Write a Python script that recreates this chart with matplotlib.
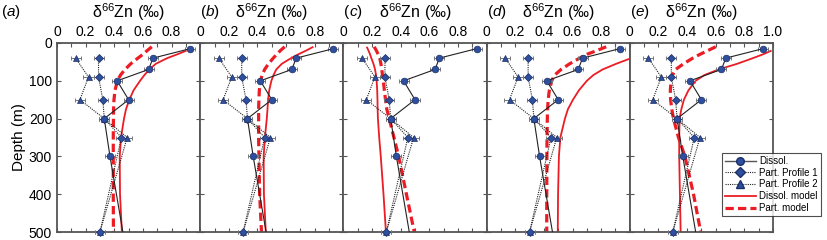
import numpy as np
import matplotlib
matplotlib.use("Agg")
import matplotlib.pyplot as plt
from matplotlib.lines import Line2D

plt.rcParams['font.family'] = ['Liberation Sans', 'DejaVu Sans']
plt.rcParams['mathtext.fontset'] = 'custom'
plt.rcParams['mathtext.rm'] = 'Liberation Sans'

# ---- measured data (same in all panels) ----
dis_depth = [15, 40, 70, 100, 150, 200, 300, 500]
dis_val = [0.93, 0.67, 0.64, 0.42, 0.50, 0.33, 0.37, 0.46]
dis_err = 0.035

part_depth = [40, 90, 150, 200, 250, 500]
part1_val = [0.29, 0.29, 0.32, 0.33, 0.45, 0.30]
part2_val = [0.13, 0.22, 0.16, 0.33, 0.49, 0.30]
part_err = 0.035

# ---- model curves ----
model_depth = [10, 20, 30, 40, 55, 70, 85, 100, 125, 150, 175, 200, 250, 300, 400, 500]
nan = np.nan
dis_model = {
    'a': [nan, 0.905, 0.84, 0.77, 0.69, 0.645, 0.61, 0.58, 0.535, 0.505, 0.482, 0.468, 0.447, 0.438, 0.44, 0.453],
    'b': [0.79, 0.74, 0.685, 0.635, 0.57, 0.531, 0.512, 0.497, 0.482, 0.474, 0.47, 0.465, 0.452, 0.443, 0.445, 0.458],
    'c': [0.163, 0.175, 0.186, 0.195, 0.21, 0.221, 0.228, 0.232, 0.236, 0.238, 0.239, 0.241, 0.25, 0.261, 0.28, 0.297],
    'd': [nan, nan, nan, 1.01, 0.905, 0.81, 0.745, 0.70, 0.645, 0.603, 0.568, 0.547, 0.515, 0.505, 0.499, 0.497],
    'e': [nan, 0.99, 0.93, 0.86, 0.75, 0.62, 0.52, 0.46, 0.41, 0.378, 0.36, 0.348, 0.345, 0.345, 0.35, 0.355],
}
part_model = {
    'a': [0.662, 0.63, 0.60, 0.565, 0.515, 0.475, 0.443, 0.422, 0.405, 0.398, 0.395, 0.394, 0.393, 0.393, 0.393, 0.394],
    'b': [0.59, 0.56, 0.535, 0.51, 0.477, 0.45, 0.432, 0.422, 0.413, 0.41, 0.408, 0.408, 0.408, 0.41, 0.415, 0.428],
    'c': [0.215, 0.23, 0.243, 0.254, 0.262, 0.268, 0.273, 0.279, 0.286, 0.294, 0.303, 0.32, 0.353, 0.386, 0.44, 0.495],
    'd': [0.835, 0.77, 0.70, 0.65, 0.58, 0.52, 0.475, 0.455, 0.438, 0.43, 0.426, 0.424, 0.422, 0.421, 0.42, 0.42],
    'e': [0.60, 0.545, 0.49, 0.44, 0.375, 0.32, 0.298, 0.288, 0.283, 0.285, 0.293, 0.305, 0.34, 0.385, 0.445, 0.495],
}
panels = ['a', 'b', 'c', 'd', 'e']
x_ticklabels = ['0', '0.2', '0.4', '0.6', '0.8', '1.0']
y_ticks = [0, 100, 200, 300, 400, 500]

# ---- styling ----
blue = '#2E4E9E'
blue_edge = '#1C2F66'
red = '#EC1C24'
spine_col = '#555555'

W, H = 828, 240
fig = plt.figure(figsize=(W / 100, H / 100), dpi=100)
left_px, right_px = 57, 773
top_px, bot_px = 43, 232
pw = (right_px - left_px) / 5.0

axes = []
for i, p in enumerate(panels):
    ax = fig.add_axes([(left_px + i * pw) / W, 1 - bot_px / H, pw / W, (bot_px - top_px) / H])
    axes.append(ax)
    ax.set_xlim(0, 1.0)
    ax.set_ylim(500, 0)

    # models
    ax.plot(dis_model[p], model_depth, color=red, lw=1.3, solid_capstyle='butt', zorder=2)
    ax.plot(part_model[p], model_depth, color=red, lw=2.3, dashes=(2.6, 1.3), zorder=2)

    # measured profiles
    ax.errorbar(part2_val, part_depth, xerr=part_err, fmt='none', ecolor='#777777',
                elinewidth=0.7, capsize=1.4, capthick=0.7, zorder=3, clip_on=False)
    ax.plot(part2_val, part_depth, color='#222222', lw=0.8, ls=(0, (1, 1)), marker='^',
            ms=5, mfc=blue, mec=blue_edge, mew=0.5, zorder=4, clip_on=False)
    ax.errorbar(part1_val, part_depth, xerr=part_err, fmt='none', ecolor='#777777',
                elinewidth=0.7, capsize=1.4, capthick=0.7, zorder=3, clip_on=False)
    ax.plot(part1_val, part_depth, color='#222222', lw=0.8, ls=(0, (1, 1)), marker='D',
            ms=4.2, mfc=blue, mec=blue_edge, mew=0.5, zorder=4, clip_on=False)
    ax.errorbar(dis_val[:-1], dis_depth[:-1], xerr=dis_err, fmt='none', ecolor='#777777',
                elinewidth=0.7, capsize=1.4, capthick=0.7, zorder=3)
    ax.plot(dis_val, dis_depth, color='#222222', lw=0.8, marker='o', ms=4.8,
            mfc=blue, mec=blue_edge, mew=0.5, markevery=list(range(len(dis_val) - 1)), zorder=5)

    # axes styling
    for s in ax.spines.values():
        s.set_color(spine_col)
        s.set_linewidth(1.3)
    ax.xaxis.tick_top()
    ax.set_xticks(np.arange(0, 1.01, 0.2))
    ax.set_xticks(np.arange(0.1, 1.0, 0.2), minor=True)
    if p == 'e':
        ax.set_xticklabels(x_ticklabels)
    else:
        ax.set_xticklabels(x_ticklabels[:-1] + [''])
    ax.tick_params(axis='x', which='both', top=True, bottom=True, direction='in',
                   length=3, width=0.8, color=spine_col, labelsize=10, pad=3)
    ax.set_yticks(y_ticks)
    ax.tick_params(axis='y', which='both', left=True, right=True, direction='in',
                   length=3, width=0.8, color=spine_col, labelsize=10)
    if i == 0:
        ax.set_yticklabels([str(v) for v in y_ticks])
        ax.set_ylabel('Depth (m)', fontsize=11, labelpad=2)
    else:
        ax.set_yticklabels([])

    cx = (left_px + (i + 0.5) * pw) / W
    fig.text(cx, 1 - 12 / H, r'δ$^{66}$Zn (‰)', ha='center', va='center', fontsize=11.5)
    lx = 2 / W if i == 0 else (left_px + i * pw + 1) / W
    fig.text(lx, 1 - 12 / H, '(', ha='left', va='center', fontsize=11)
    fig.text(lx + 5 / W, 1 - 12 / H, p, ha='left', va='center', fontsize=11, style='italic')
    fig.text(lx + 13 / W, 1 - 12 / H, ')', ha='left', va='center', fontsize=11)

handles = [
    Line2D([], [], color='#555555', lw=1.0, marker='o', ms=5.5, mfc=blue, mec=blue_edge),
    Line2D([], [], color='#222222', lw=0.8, ls=(0, (1, 1)), marker='D', ms=5, mfc=blue, mec=blue_edge),
    Line2D([], [], color='#222222', lw=0.8, ls=(0, (1, 1)), marker='^', ms=5.5, mfc=blue, mec=blue_edge),
    Line2D([], [], color=red, lw=1.3),
    Line2D([], [], color=red, lw=2.3, dashes=(2.6, 1.3)),
]
labels = ['Dissol.', 'Part. Profile 1', 'Part. Profile 2', 'Dissol. model', 'Part. model']
leg = fig.legend(handles, labels, loc='upper left', bbox_to_anchor=(722 / W, 1 - 153 / H),
                 fontsize=7, frameon=True, fancybox=False, handlelength=3.2,
                 handletextpad=0.35, labelspacing=0.18, borderpad=0.3, borderaxespad=0)
leg.get_frame().set_edgecolor('#222222')
leg.get_frame().set_linewidth(0.8)

fig.savefig('out.png', dpi=100)
